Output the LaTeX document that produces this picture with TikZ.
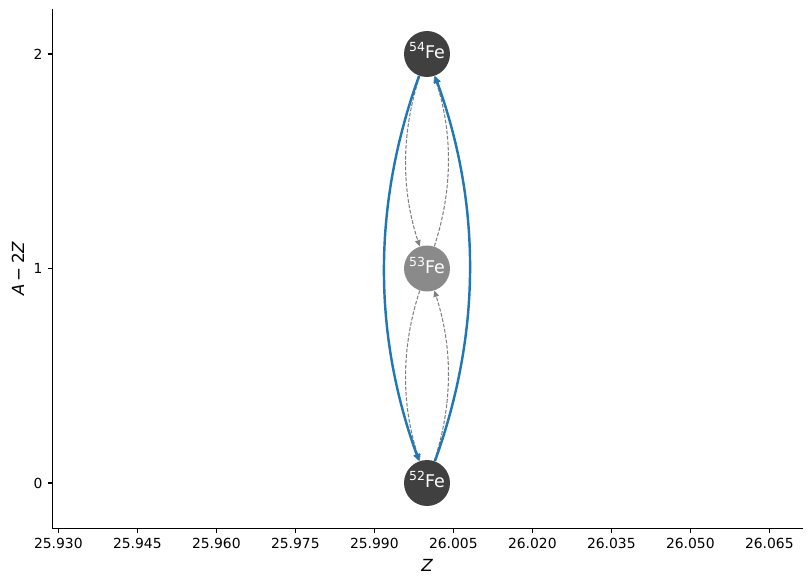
\documentclass[tikz,border=0pt]{standalone}
\usepackage{fontspec}
\setmainfont{DejaVu Sans}
\usetikzlibrary{arrows.meta}
\definecolor{nodedark}{RGB}{64,64,64}
\definecolor{nodelight}{RGB}{138,138,138}
\definecolor{mplblue}{RGB}{31,119,180}
\definecolor{edgegray}{RGB}{128,128,128}
\newcommand\isotope[2]{\raisebox{0.4em}{\fontsize{9}{9}\selectfont #1}#2}
\begin{document}
\begin{tikzpicture}[x=0.72pt,y=-0.72pt,
  nuc/.style={circle, inner sep=0pt, minimum size=33.1pt, text=white, font=\fontsize{12.6}{12.6}\selectfont, text height=0.68em, text depth=0pt},
  strong/.style={draw=mplblue, line width=1.75pt, -{Triangle[length=5.2pt,width=4.8pt]}},
  weak/.style={draw=edgegray, line width=0.75pt, dash pattern=on 2.7pt off 1.2pt, -{Triangle[length=4.5pt,width=4.1pt]}},
  spine/.style={line width=0.8pt, black},
  ticklab/.style={inner sep=0pt, font=\fontsize{10}{12}\selectfont},
  axlab/.style={inner sep=0pt, font=\fontsize{12}{14}\selectfont}
]
\useasboundingbox (0,0) rectangle (811,585);
% axes
\draw[spine] (52.5,9.3) -- (52.5,528.3) -- (802.7,528.3);
\foreach \i/\lab in {0/25.930,1/25.945,2/25.960,3/25.975,4/25.990,5/26.005,6/26.020,7/26.035,8/26.050,9/26.065}{
  \draw[spine] (58.3+\i*79,528.3) -- ++(0,4.86);
  \node[ticklab, anchor=north] (xt\i) at (58.3+\i*79,538.2) {\lab};
}
\foreach \v/\yy in {0/483,1/268.5,2/54}{
  \draw[spine] (52.5,\yy) -- ++(-4.86,0);
  \node[ticklab, anchor=east] (yt\v) at (42.8,\yy) {\v};
}
\node[axlab] (xlab) at (427,565.3) {\itshape Z};
\node[axlab, rotate=90] (ylab) at (18,268.8) {{\itshape A}\hspace{0.2em}−\hspace{0.2em}2{\itshape Z}};
% nuclei
\node[nuc, fill=nodedark] (n54) at (427,54) {\isotope{54}{Fe}};
\node[nuc, fill=nodelight] (n53) at (427,268.5) {\isotope{53}{Fe}};
\node[nuc, fill=nodedark] (n52) at (427,483) {\isotope{52}{Fe}};
% weak links
\draw[weak] (n54) .. controls (401.1,132.7) and (401.1,189.8) .. (n53);
\draw[weak] (n53) .. controls (452.9,189.8) and (452.9,132.7) .. (n54);
\draw[weak] (n53) .. controls (401.1,347.2) and (401.1,404.3) .. (n52);
\draw[weak] (n52) .. controls (452.9,404.3) and (452.9,347.2) .. (n53);
% strong links
\draw[strong] (n54) .. controls (372.6,204.2) and (372.6,332.8) .. (n52);
\draw[strong] (n52) .. controls (481.4,332.8) and (481.4,204.2) .. (n54);
\end{tikzpicture}
\end{document}
